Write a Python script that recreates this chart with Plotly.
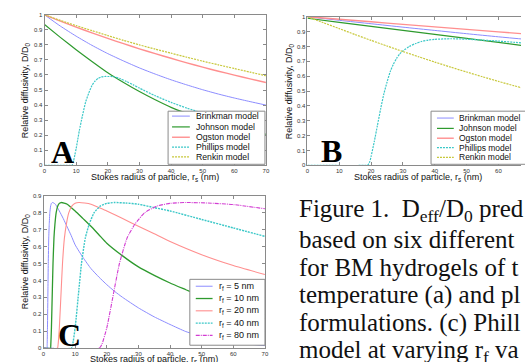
import plotly.graph_objects as go

W, H = 525, 362

# ---------------- Panel A data ----------------
a_rs = [0, 5, 10, 15, 20, 25, 30, 35, 40, 45, 50, 55, 60, 65, 70]
a_brinkman = [1.0, .925, .858, .797, .742, .693, .647, .606, .568, .534, .502, .473, .447, .423, .400]
a_johnson = [.935, .85, .768, .69, .615, .55, .49, .435, .385, .345, .31, .28, .253, .228, .206]
a_ogston = [1.0, .958, .918, .880, .843, .808, .774, .742, .711, .681, .652, .625, .599, .574, .550]
a_renkin = [1.0, .963, .928, .895, .862, .83, .80, .772, .745, .718, .692, .667, .643, .619, .595]
a_phillips_rs = [0, 8, 8.7, 9.2, 9.6, 10, 10.5, 11, 12, 13, 14, 15, 16, 17, 18, 19, 20, 21, 22,
                 24, 26, 28, 30, 35, 40, 45, 50, 55, 60, 65, 70]
a_phillips = [0, 0, 0, .03, .07, .11, .17, .23, .33, .42, .48, .53, .56, .578, .587, .59, .59, .59, .588,
              .575, .556, .535, .513, .462, .418, .38, .347, .318, .29, .264, .24]

# ---------------- Panel B data ----------------
b_rs = [0, 10, 20, 30, 40, 50, 60, 70]
b_brinkman = [1.0, .976, .953, .93, .908, .886, .865, .845]
b_johnson = [.99, .962, .935, .908, .881, .854, .827, .80]
b_ogston = [1.0, .983, .966, .949, .932, .915, .898, .882]
b_renkin_rs = [0, 5, 10, 15, 20, 25, 30, 35, 40, 45, 50, 55, 60, 65, 70]
b_renkin = [1.0, .96, .92, .88, .841, .803, .766, .73, .695, .661, .628, .596, .565, .535, .507]
b_phillips_rs = [0, 18.5, 19, 19.5, 20, 21, 22, 23, 24, 25, 26, 27, 28, 29, 30, 32, 34, 36, 38, 40,
                 45, 50, 55, 60, 65, 70]
b_phillips = [0, 0, .003, .02, .06, .16, .27, .38, .48, .56, .63, .68, .72, .75, .77, .80, .82, .835,
              .843, .848, .852, .849, .843, .836, .828, .82]

# ---------------- Panel C data (Phillips model, varying r_f) ----------------
c5_rs = [0, 1.1, 1.15, 1.25, 1.4, 1.5, 1.65, 1.8, 2, 2.25, 2.5, 2.8, 3.25, 3.75, 4.4, 5, 6.25, 7.5,
         8.75, 10, 12.5, 15, 17.5, 20, 22.5, 25, 30, 35, 40, 45, 50, 55, 60, 65, 70]
c5 = [0, 0, .02, .12, .35, .5, .65, .73, .8, .84, .855, .86, .857, .85, .83, .81, .765, .715,
      .665, .61, .535, .47, .42, .375, .335, .30, .238, .185, .14, .098, .07, .05, .035, .024, .015]
c10_rs = [0, 2.2, 2.3, 2.5, 2.8, 3, 3.3, 3.6, 4, 4.5, 5, 5.6, 6.5, 7.5, 8.75, 10, 12.5, 15, 17.5,
          20, 25, 30, 35, 40, 45, 50, 60, 70]
c10 = [0, 0, .02, .12, .35, .5, .65, .73, .8, .84, .855, .86, .857, .85, .83, .81, .765, .72, .67,
       .62, .545, .48, .43, .385, .345, .305, .235, .175]
c20_rs = [0, 4.4, 4.6, 5, 5.6, 6, 6.6, 7.2, 8, 9, 10, 11.2, 13, 15, 17.5, 20, 25, 30, 35, 40, 50, 60, 70]
c20 = [0, 0, .02, .12, .35, .5, .65, .73, .8, .84, .855, .86, .857, .85, .83, .81, .765, .72, .675,
       .63, .552, .488, .435]
c40_rs = [0, 8.8, 9.2, 10, 11.2, 12, 13.2, 14.4, 16, 18, 20, 22.4, 26, 30, 35, 40, 50, 60, 70]
c40 = [0, 0, .02, .12, .35, .5, .65, .73, .8, .84, .855, .86, .857, .85, .83, .81, .76, .71, .66]
c80_rs = [0, 17.6, 18.4, 20, 22.4, 24, 26.4, 28.8, 32, 36, 40, 44.8, 52, 60, 70]
c80 = [0, 0, .02, .12, .35, .5, .65, .73, .8, .84, .855, .86, .857, .848, .823]

models = ["Brinkman model", "Johnson model", "Ogston model", "Phillips model", "Renkin model"]
rf_labels = ["r<sub>f</sub> = 5 nm", "r<sub>f</sub> = 10 nm", "r<sub>f</sub> = 20 nm",
             "r<sub>f</sub> = 40 nm", "r<sub>f</sub> = 80 nm"]
x_ticks = [0, 10, 20, 30, 40, 50, 60, 70]

caption_lines = [
    "Figure 1.  D<sub>eff</sub>/D<sub>0</sub> pred",
    "based on six different",
    "for BM hydrogels of t",
    "temperature (a) and pl",
    "formulations. (c) Phill",
    "model at varying r<sub>f</sub> va",
]

BLUE = "#8c8cff"
GREEN = "#2e9a2e"
RED = "#ff8f8f"
CYAN = "#3cc8c8"
YELLOW = "#c8c83c"
MAGENTA = "#d23cd2"
FRAME = "#8a8a8a"

model_styles = [
    dict(color=BLUE, width=1, dash="solid"),
    dict(color=GREEN, width=1.2, dash="solid"),
    dict(color=RED, width=1.4, dash="solid"),
    dict(color=CYAN, width=1.2, dash="2px,1px"),
    dict(color=YELLOW, width=1.2, dash="2px,1px"),
]
rf_styles = [
    dict(color=BLUE, width=1, dash="solid"),
    dict(color=GREEN, width=1.3, dash="solid"),
    dict(color=RED, width=1.1, dash="solid"),
    dict(color=CYAN, width=1.4, dash="2px,1px"),
    dict(color=MAGENTA, width=1.1, dash="4px,1px,1px,1px"),
]


def px(x):
    return x / W


def py(y):
    return 1 - y / H


fig = go.Figure()

a_series = [(a_rs, a_brinkman), (a_rs, a_johnson), (a_rs, a_ogston),
            (a_phillips_rs, a_phillips), (a_rs, a_renkin)]
for (xs, ys), name, st in zip(a_series, models, model_styles):
    fig.add_trace(go.Scatter(x=xs, y=ys, mode="lines", name=name,
                             line=dict(shape="spline", smoothing=0.6, **st),
                             xaxis="x", yaxis="y", showlegend=False))

b_series = [(b_rs, b_brinkman), (b_rs, b_johnson), (b_rs, b_ogston),
            (b_phillips_rs, b_phillips), (b_renkin_rs, b_renkin)]
for (xs, ys), name, st in zip(b_series, models, model_styles):
    fig.add_trace(go.Scatter(x=xs, y=ys, mode="lines", name=name,
                             line=dict(shape="spline", smoothing=0.6, **st),
                             xaxis="x2", yaxis="y2", showlegend=False))

c_series = [(c5_rs, c5), (c10_rs, c10), (c20_rs, c20), (c40_rs, c40), (c80_rs, c80)]
for (xs, ys), name, st in zip(c_series, rf_labels, rf_styles):
    fig.add_trace(go.Scatter(x=xs, y=ys, mode="lines", name=name,
                             line=dict(shape="spline", smoothing=0.5, **st),
                             xaxis="x3", yaxis="y3", showlegend=False))


def xaxis(domain, rng, anchor, mirror=True):
    return dict(domain=domain, range=rng, anchor=anchor, tickvals=x_ticks,
                ticks="inside", ticklen=3, tickcolor=FRAME, tickwidth=1,
                showline=True, linecolor=FRAME, linewidth=1, mirror="ticks" if mirror else False,
                showgrid=False, zeroline=False,
                tickfont=dict(family="Liberation Sans, Arial", size=6, color="#333"))


def yaxis(domain, rng, anchor, mirror=True):
    return dict(domain=domain, range=rng, anchor=anchor, dtick=0.1, tick0=0,
                ticks="inside", ticklen=3, tickcolor=FRAME, tickwidth=1,
                showline=True, linecolor=FRAME, linewidth=1, mirror="ticks" if mirror else False,
                showgrid=False, zeroline=False,
                tickfont=dict(family="Liberation Sans, Arial", size=6, color="#333"))


shapes = []
annotations = []

LBL = dict(family="Liberation Sans, Arial", size=9, color="#111")

xt = "Stokes radius of particle, r<sub>s</sub> (nm)"
yt = "Relative diffusivity, D/D<sub>0</sub>"
for (x, y) in [(155, 177.5), (421, 177), (154, 363)]:
    annotations.append(dict(x=px(x), y=py(y), xref="paper", yref="paper", text=xt, showarrow=False,
                            xanchor="center", yanchor="middle", font=LBL))
for (x, y) in [(24, 89), (291, 90), (24, 263)]:
    annotations.append(dict(x=px(x), y=py(y), xref="paper", yref="paper", text=yt, showarrow=False,
                            textangle=-90, xanchor="center", yanchor="middle", font=LBL))

for (t, x, y) in [("A", 61, 152), ("B", 333, 151), ("C", 68, 338)]:
    annotations.append(dict(x=px(x), y=py(y), xref="paper", yref="paper", text="<b>%s</b>" % t,
                            showarrow=False, xanchor="center", yanchor="middle",
                            font=dict(family="Liberation Serif, Times New Roman", size=32, color="#000")))


def legend(box, ys, sx0, sx1, tx, labels, styles, fsize):
    x0, x1, y0, y1 = box
    shapes.append(dict(type="rect", xref="paper", yref="paper", x0=px(x0), x1=px(x1), y0=py(y0), y1=py(y1),
                       line=dict(color=FRAME, width=1), fillcolor="white", layer="above"))
    for y, lab, st in zip(ys, labels, styles):
        shapes.append(dict(type="line", xref="paper", yref="paper", x0=px(sx0), x1=px(sx1), y0=py(y), y1=py(y),
                           line=dict(color=st["color"], width=st["width"], dash=st["dash"]), layer="above"))
        annotations.append(dict(x=px(tx), y=py(y), xref="paper", yref="paper", text=lab, showarrow=False,
                                xanchor="left", yanchor="middle",
                                font=dict(family="Liberation Sans, Arial", size=fsize, color="#111")))


legend((168, 266, 110, 164), [115, 126, 136.5, 146.5, 156.5], 172, 190, 194, models, model_styles, 8.7)
legend((434, 532, 110, 164), [117, 127.5, 137.5, 147, 157], 440, 457, 460, models, model_styles, 8.5)
legend((190, 266, 281, 348), [288, 300.5, 313, 325.5, 338], 196, 213, 217, rf_labels, rf_styles, 9)

for i, line in enumerate(caption_lines):
    yb = 220 + 28.5 * i
    annotations.append(dict(x=px(298), y=py(yb - 8.5), xref="paper", yref="paper", text=line, showarrow=False,
                            xanchor="left", yanchor="middle",
                            font=dict(family="Liberation Serif, Times New Roman", size=25, color="#111")))

fig.update_layout(
    width=W, height=H, margin=dict(l=0, r=0, t=0, b=0),
    paper_bgcolor="white", plot_bgcolor="white", showlegend=False,
    xaxis=xaxis([px(43), px(267)], [0, 70], "y"),
    yaxis=yaxis([py(165), py(12)], [0, 1], "x"),
    xaxis2=xaxis([px(309), 1.0], [0, 67.1], "y2"),
    yaxis2=yaxis([py(165), py(14)], [0, 1], "x2", mirror=False),
    xaxis3=xaxis([px(42), px(266)], [0, 70], "y3"),
    yaxis3=yaxis([py(351), py(196)], [0, 0.9], "x3"),
    shapes=shapes, annotations=annotations,
)

fig.write_html("out.html", config={"displayModeBar": False},
               post_script="document.body.style.margin='0px';")
